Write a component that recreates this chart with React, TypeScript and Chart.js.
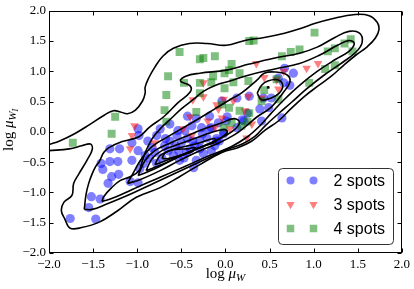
import React, { useEffect, useRef } from 'react';
import { Chart, registerables } from 'chart.js';

Chart.register(...registerables);

const TICKS = [-2, -1.5, -1, -0.5, 0, 0.5, 1, 1.5, 2];
const SERIES_LABELS = ['2 spots', '3 spots', '4 spots'];
const X_TITLE = ['log ', '\u03bc', 'W'];
const Y_TITLE = ['log ', '\u03bc', 'W', 'I'];

const SPOTS2: number[][] = [
  [-1.76, -1.43], [-1.47, -1.44], [-1.55, -1.25], [-1.52, -1.07], [-1.42, -1.11], [-1.33, -0.85],
  [-1.29, -0.74], [-1.21, -0.70], [-1.41, -0.52], [-1.31, -0.49], [-1.22, -0.49], [-1.39, -0.62],
  [-1.08, -0.82], [-0.99, -0.84], [-1.06, -0.47], [-0.97, -0.61], [-0.99, -0.31], [-1.31, -0.28],
  [-1.20, -0.28], [-0.98, -0.06], [-0.78, -0.06], [-0.83, -0.26], [-0.80, -0.34], [-0.72, -0.43],
  [-0.78, -0.52], [-0.93, -0.52], [-0.55, -0.06], [-0.44, -0.34], [-0.47, -0.43], [-0.36, -0.59],
  [-0.53, -0.31], [-0.59, -0.39], [-0.40, -0.28], [-0.25, -0.36], [-0.16, -0.31], [-0.33, -0.47],
  [-0.21, -0.10], [-0.10, -0.11], [-0.02, -0.03], [-0.99, 0.05], [-1.06, -0.18], [-0.74, 0.05],
  [-0.63, 0.13], [-0.54, 0.02], [-0.43, 0.26], [-0.33, 0.22], [-0.27, 0.07], [-0.26, -0.03],
  [-0.37, -0.15], [-0.69, -0.23], [-0.63, -0.15], [-0.50, -0.18], [-0.43, -0.11], [-0.57, -0.23],
  [-0.65, -0.31], [-0.35, -0.23], [-0.29, -0.15], [-0.46, 0.02], [-0.38, 0.10], [-0.18, 0.05],
  [-0.12, -0.23], [-0.07, -0.15], [-0.88, -0.15], [-0.91, -0.39], [-0.86, -0.44], [-0.68, -0.11],
  [-0.29, -0.28], [-0.52, -0.47], [0.67, 1.05], [0.77, 0.97], [0.66, 0.81], [0.73, 0.77],
  [0.60, 0.89], [0.52, 0.56], [0.43, 0.56], [0.49, 0.40], [0.39, 0.38], [0.64, 0.23],
  [0.27, 0.59], [0.13, 0.56], [-0.04, 0.51], [0.41, 0.18], [0.21, 0.18], [0.01, 0.18],
  [-0.08, 0.15], [-0.16, 0.07], [-0.18, 0.26], [-0.02, -0.01], [0.13, 0.07], [-0.10, -0.15],
  [0.25, 0.31], [0.19, 0.20], [0.02, 0.25],
];

const SPOTS3: number[][] = [
  [-1.03, 0.10], [-1.06, -0.06], [-1.08, -0.28], [-0.80, -0.18], [-0.38, -0.06], [-0.37, 0.53],
  [-0.25, 0.58], [-0.25, 0.81], [-0.40, 0.25], [-0.12, 0.07], [-0.10, 0.45], [0.35, 1.13],
  [0.44, 0.90], [0.66, 1.00], [0.92, 1.05], [1.05, 1.13], [0.58, 0.86], [0.60, 0.71],
  [0.26, 0.59], [-0.02, 0.54], [0.09, 0.51], [0.22, 0.35], [0.24, -0.10], [0.30, 0.13],
  [-0.08, 0.38], [-0.04, 0.23], [0.41, 0.56], [-0.48, 0.05], [-0.20, 0.18], [0.05, 0.05],
];

const SPOTS4: number[][] = [
  [-1.73, -0.18], [-1.29, -0.03], [-1.25, 0.25], [-0.69, 0.36], [-0.67, 0.61], [-0.65, 0.92],
  [-0.52, 1.32], [-0.29, 1.20], [-0.25, 1.22], [-0.12, 1.25], [-0.47, 0.81], [-0.29, 0.81],
  [-0.16, 0.82], [-0.01, 0.97], [-0.29, 0.64], [-0.01, 0.72], [-0.33, 0.33], [-0.04, 0.45],
  [-0.67, 0.17], [0.27, 1.50], [0.32, 1.51], [1.01, 1.64], [0.07, 1.12], [0.04, 1.02],
  [0.16, 0.97], [-0.14, 0.92], [0.09, 0.82], [0.26, 0.84], [0.58, 0.87], [0.64, 1.25],
  [0.74, 1.32], [0.84, 1.36], [1.16, 1.33], [1.24, 1.38], [1.35, 1.46], [1.42, 1.53],
  [1.44, 1.33], [1.13, 1.04], [1.24, 1.10], [0.95, 0.81], [0.41, 0.51], [0.04, 0.40],
  [0.16, 0.35], [0.60, 0.54], [-0.02, 0.07], [0.18, 0.10], [0.27, 0.31], [0.44, 0.69],
  [0.07, 0.15], [0.25, 0.17],
];

const CONTOUR_1: number[][] = [
  [-2.0, -0.21], [-1.88, -0.15], [-1.71, -0.03], [-1.54, 0.12], [-1.37, 0.28], [-1.27, 0.35],
  [-1.19, 0.33], [-1.11, 0.30], [-1.02, 0.36], [-0.94, 0.51], [-0.91, 0.64], [-0.91, 0.74],
  [-0.87, 0.89], [-0.80, 1.07], [-0.71, 1.25], [-0.59, 1.38], [-0.41, 1.46], [-0.21, 1.46],
  [0.01, 1.43], [0.22, 1.51], [0.44, 1.56], [0.67, 1.63], [0.86, 1.71], [1.01, 1.79],
  [1.21, 1.87], [1.47, 1.94], [1.63, 1.92], [1.72, 1.81], [1.74, 1.69], [1.70, 1.55],
  [1.61, 1.41], [1.48, 1.27], [1.34, 1.10], [1.20, 0.92], [1.05, 0.76], [0.89, 0.58],
  [0.74, 0.38], [0.60, 0.18], [0.45, 0.03], [0.30, -0.15], [0.14, -0.26], [-0.04, -0.34],
  [-0.29, -0.54], [-0.52, -0.74], [-0.74, -0.92], [-1.01, -1.08], [-1.23, -1.31], [-1.43, -1.49],
  [-1.63, -1.58], [-1.76, -1.59], [-1.82, -1.44], [-1.86, -1.30], [-1.83, -1.16], [-1.74, -1.05],
  [-1.72, -0.85], [-1.66, -0.69], [-1.57, -0.47], [-1.51, -0.29], [-1.53, -0.20], [-1.63, -0.23],
  [-1.77, -0.28], [-2.0, -0.31],
];

const CONTOUR_2: number[][] = [
  [-1.60, -1.28], [-1.58, -1.03], [-1.55, -0.85], [-1.51, -0.69], [-1.47, -0.57], [-1.43, -0.49],
  [-1.38, -0.34], [-1.32, -0.26], [-1.17, -0.16], [-0.98, -0.08], [-0.86, 0.08], [-0.70, 0.25],
  [-0.54, 0.48], [-0.40, 0.66], [-0.40, 0.76], [-0.51, 0.84], [-0.45, 0.92], [-0.29, 0.97],
  [0.01, 1.02], [0.27, 1.12], [0.56, 1.22], [0.84, 1.30], [1.04, 1.40], [1.24, 1.56],
  [1.40, 1.66], [1.52, 1.63], [1.55, 1.48], [1.48, 1.32], [1.33, 1.15], [1.12, 0.94],
  [0.92, 0.71], [0.75, 0.49], [0.60, 0.30], [0.45, 0.10], [0.33, -0.08], [0.19, -0.20],
  [0.02, -0.29], [-0.24, -0.46], [-0.52, -0.65], [-0.80, -0.84], [-1.08, -1.03], [-1.36, -1.20],
  [-1.51, -1.28], [-1.60, -1.28],
];

const CONTOUR_3: number[][] = [
  [-1.40, -1.15], [-1.38, -1.07], [-1.29, -0.92], [-1.19, -0.80], [-1.08, -0.74], [-0.98, -0.64],
  [-0.94, -0.47], [-0.90, -0.31], [-0.83, -0.11], [-0.74, 0.05], [-0.63, 0.20], [-0.50, 0.38],
  [-0.36, 0.54], [-0.25, 0.67], [-0.11, 0.77], [0.05, 0.84], [0.27, 0.94], [0.56, 1.04],
  [0.84, 1.13], [1.07, 1.27], [1.27, 1.43], [1.40, 1.51], [1.46, 1.46], [1.40, 1.33],
  [1.25, 1.20], [1.04, 1.00], [0.84, 0.77], [0.67, 0.54], [0.52, 0.31], [0.39, 0.10],
  [0.25, -0.08], [0.07, -0.24], [-0.18, -0.39], [-0.46, -0.57], [-0.74, -0.75], [-0.98, -0.90],
  [-1.13, -1.00], [-1.29, -1.10], [-1.40, -1.15],
];

const CONTOUR_4: number[][] = [
  [-1.11, -0.85], [-1.03, -0.64], [-0.95, -0.44], [-0.83, -0.24], [-0.69, -0.11], [-0.50, 0.05],
  [-0.29, 0.23], [-0.12, 0.38], [0.05, 0.53], [0.18, 0.64], [0.36, 0.86], [0.44, 0.97],
  [0.56, 0.99], [0.70, 0.94], [0.73, 0.82], [0.65, 0.64], [0.52, 0.41], [0.36, 0.25],
  [0.22, 0.08], [0.10, -0.05], [-0.07, -0.18], [-0.29, -0.31], [-0.52, -0.47], [-0.74, -0.64],
  [-0.97, -0.79], [-1.11, -0.85],
];

const CONTOUR_5: number[][] = [
  [0.36, 0.64], [0.41, 0.77], [0.48, 0.84], [0.59, 0.86], [0.65, 0.77], [0.61, 0.64],
  [0.52, 0.56], [0.41, 0.53], [0.36, 0.64],
];

const CONTOUR_5B: number[][] = [[0.47, 0.735], [0.49, 0.745], [0.49, 0.725], [0.47, 0.735]];

const CONTOUR_6: number[][] = [
  [-0.99, -0.72], [-0.91, -0.47], [-0.80, -0.31], [-0.65, -0.20], [-0.46, -0.08], [-0.24, 0.05],
  [-0.04, 0.15], [0.10, 0.22], [0.16, 0.15], [0.07, 0.00], [-0.12, -0.15], [-0.35, -0.29],
  [-0.57, -0.44], [-0.80, -0.61], [-0.99, -0.72],
];

const CONTOUR_7: number[][] = [
  [-0.90, -0.64], [-0.83, -0.44], [-0.72, -0.31], [-0.54, -0.21], [-0.35, -0.11], [-0.16, -0.01],
  [-0.01, 0.04], [0.02, -0.01], [-0.09, -0.13], [-0.29, -0.26], [-0.50, -0.39], [-0.72, -0.54],
  [-0.90, -0.64],
];

const CONTOUR_8: number[][] = [
  [-0.80, -0.54], [-0.74, -0.39], [-0.63, -0.31], [-0.46, -0.24], [-0.29, -0.18], [-0.13, -0.11],
  [-0.11, -0.16], [-0.25, -0.24], [-0.43, -0.34], [-0.61, -0.44], [-0.80, -0.54],
];

const CONTOUR_9: number[][] = [
  [-0.72, -0.44], [-0.68, -0.34], [-0.57, -0.29], [-0.43, -0.28], [-0.34, -0.26], [-0.38, -0.33],
  [-0.52, -0.39], [-0.65, -0.44], [-0.72, -0.44],
];

const CONTOURS = [CONTOUR_1, CONTOUR_2, CONTOUR_3, CONTOUR_4, CONTOUR_5, CONTOUR_5B, CONTOUR_6, CONTOUR_7, CONTOUR_8, CONTOUR_9];

const BLUE = 'rgba(0,0,255,0.5)';
const RED = 'rgba(255,0,0,0.5)';
const GREEN = 'rgba(0,128,0,0.5)';

const SERIF = '"Liberation Serif", "Times New Roman", serif';
const SANS = '"Liberation Sans", Arial, sans-serif';

const fmtTick = (v: number) => (v < 0 ? '\u2212' : '') + Math.abs(v).toFixed(1);
const toPts = (arr: number[][]) => arr.map(([x, y]) => ({ x, y }));

function drawRich(ctx: CanvasRenderingContext2D, parts: { t: string; font: string; dy: number }[], cx: number, base: number) {
  let total = 0;
  const ws = parts.map((p) => {
    ctx.font = p.font;
    const w = ctx.measureText(p.t).width;
    total += w;
    return w;
  });
  let x = cx - total / 2;
  ctx.textAlign = 'left';
  ctx.textBaseline = 'alphabetic';
  parts.forEach((p, i) => {
    ctx.font = p.font;
    ctx.fillText(p.t, x, base + p.dy);
    x += ws[i];
  });
}

function marker(ctx: CanvasRenderingContext2D, kind: string, x: number, y: number, color: string) {
  ctx.fillStyle = color;
  ctx.beginPath();
  if (kind === 'circle') {
    ctx.arc(x, y, 4, 0, Math.PI * 2);
  } else if (kind === 'tri') {
    const r = 4.8;
    const s = r * Math.sin(Math.PI / 3);
    ctx.moveTo(x, y + r);
    ctx.lineTo(x - s, y - r / 2);
    ctx.lineTo(x + s, y - r / 2);
    ctx.closePath();
  } else {
    ctx.rect(x - 3.75, y - 3.75, 7.5, 7.5);
  }
  ctx.fill();
}

const decorPlugin = {
  id: 'decor',
  afterDatasetsDraw(chart: any) {
    const { ctx, chartArea: a, scales } = chart;
    ctx.save();
    ctx.strokeStyle = '#000';
    ctx.lineWidth = 1;
    const L = Math.round(a.left) + 0.5;
    const R = Math.round(a.right) - 0.5;
    const T = Math.round(a.top) + 0.5;
    const B = Math.round(a.bottom) - 0.5;
    ctx.beginPath();
    TICKS.forEach((v) => {
      const px = Math.round(scales.x.getPixelForValue(v)) + 0.5;
      ctx.moveTo(px, B);
      ctx.lineTo(px, B - 4);
      ctx.moveTo(px, T);
      ctx.lineTo(px, T + 4);
      const py = Math.round(scales.y.getPixelForValue(v)) + 0.5;
      ctx.moveTo(L, py);
      ctx.lineTo(L + 4, py);
      ctx.moveTo(R, py);
      ctx.lineTo(R - 4, py);
    });
    ctx.stroke();
    ctx.strokeRect(L, T, R - L, B - T);
    ctx.restore();
  },
  afterDraw(chart: any) {
    const { ctx, chartArea: a } = chart;
    ctx.save();
    ctx.fillStyle = '#000';
    drawRich(
      ctx,
      [
        { t: X_TITLE[0], font: `15px ${SERIF}`, dy: 0 },
        { t: X_TITLE[1], font: `italic 15px ${SERIF}`, dy: 0 },
        { t: X_TITLE[2], font: `italic 11px ${SERIF}`, dy: 3 },
      ],
      (a.left + a.right) / 2,
      278
    );
    ctx.save();
    ctx.translate(13, (a.top + a.bottom) / 2 - 2);
    ctx.rotate(-Math.PI / 2);
    drawRich(
      ctx,
      [
        { t: Y_TITLE[0], font: `15px ${SERIF}`, dy: 0 },
        { t: Y_TITLE[1], font: `italic 15px ${SERIF}`, dy: 0 },
        { t: Y_TITLE[2], font: `italic 11px ${SERIF}`, dy: 3 },
        { t: Y_TITLE[3], font: `italic 8px ${SERIF}`, dy: 5 },
      ],
      0,
      0
    );
    ctx.restore();

    const bw = 115;
    const bh = 76;
    const bx = Math.round(a.right) - 9 - bw + 0.5;
    const by = Math.round(a.bottom) - 9 - bh + 0.5;
    ctx.beginPath();
    const r = 4;
    ctx.moveTo(bx + r, by);
    ctx.lineTo(bx + bw - r, by);
    ctx.quadraticCurveTo(bx + bw, by, bx + bw, by + r);
    ctx.lineTo(bx + bw, by + bh - r);
    ctx.quadraticCurveTo(bx + bw, by + bh, bx + bw - r, by + bh);
    ctx.lineTo(bx + r, by + bh);
    ctx.quadraticCurveTo(bx, by + bh, bx, by + bh - r);
    ctx.lineTo(bx, by + r);
    ctx.quadraticCurveTo(bx, by, bx + r, by);
    ctx.closePath();
    ctx.fillStyle = '#fff';
    ctx.fill();
    ctx.strokeStyle = '#333';
    ctx.lineWidth = 1;
    ctx.stroke();
    const kinds = ['circle', 'tri', 'square'];
    const cols = [BLUE, RED, GREEN];
    SERIES_LABELS.forEach((lab, i) => {
      const y = by + 12 + i * 24;
      marker(ctx, kinds[i], bx + 12, y, cols[i]);
      marker(ctx, kinds[i], bx + 35, y, cols[i]);
      ctx.fillStyle = '#000';
      ctx.font = `16px ${SANS}`;
      ctx.textAlign = 'left';
      ctx.textBaseline = 'middle';
      ctx.fillText(lab, bx + 55, y + 1);
    });
    ctx.restore();
  },
};

export default function App() {
  const ref = useRef<HTMLCanvasElement | null>(null);
  useEffect(() => {
    if (!ref.current) return;
    const contourSets = CONTOURS.map((c) => ({
      data: toPts(c),
      showLine: true,
      pointRadius: 0,
      borderColor: '#000',
      borderWidth: 1.6,
      tension: 0.4,
      fill: false,
      order: 0,
    }));
    const pointSets = [
      { label: SERIES_LABELS[0], data: toPts(SPOTS2), pointStyle: 'circle', pointRadius: 4.6, rotation: 0, backgroundColor: BLUE, order: 3 },
      { label: SERIES_LABELS[1], data: toPts(SPOTS3), pointStyle: 'triangle', pointRadius: 5, rotation: 180, backgroundColor: RED, order: 2 },
      { label: SERIES_LABELS[2], data: toPts(SPOTS4), pointStyle: 'rect', pointRadius: 5.6, rotation: 0, backgroundColor: GREEN, order: 1 },
    ].map((d) => ({ ...d, pointBorderWidth: 0, borderWidth: 0, pointBackgroundColor: d.backgroundColor, showLine: false }));

    const axis = (isX: boolean) => ({
      type: 'linear',
      min: -2,
      max: 2,
      grid: { display: false, drawTicks: false },
      border: { display: false },
      afterBuildTicks: (s: any) => {
        s.ticks = TICKS.map((v) => ({ value: v }));
      },
      afterFit: (s: any) => {
        if (isX) s.height = 36;
        else s.width = 49;
      },
      ticks: {
        callback: (v: any) => fmtTick(Number(v)),
        padding: isX ? 4 : 3,
        color: '#000',
        font: { family: SERIF, size: 13 },
        maxRotation: 0,
        autoSkip: false,
      },
    });

    const chart = new Chart(ref.current, {
      type: 'scatter',
      data: { datasets: [...contourSets, ...pointSets] as any },
      options: {
        animation: false,
        responsive: false,
        events: [],
        layout: { padding: { top: 9, right: 11, left: 0, bottom: 0 } },
        plugins: { legend: { display: false }, tooltip: { enabled: false } },
        scales: { x: axis(true) as any, y: axis(false) as any },
      },
      plugins: [decorPlugin],
    });
    return () => chart.destroy();
  }, []);
  return (
    <div style={{ position: 'absolute', left: 0, top: 0, width: 414, height: 289, background: '#fff' }}>
      <canvas ref={ref} width={414} height={289} style={{ display: 'block' }} />
    </div>
  );
}
